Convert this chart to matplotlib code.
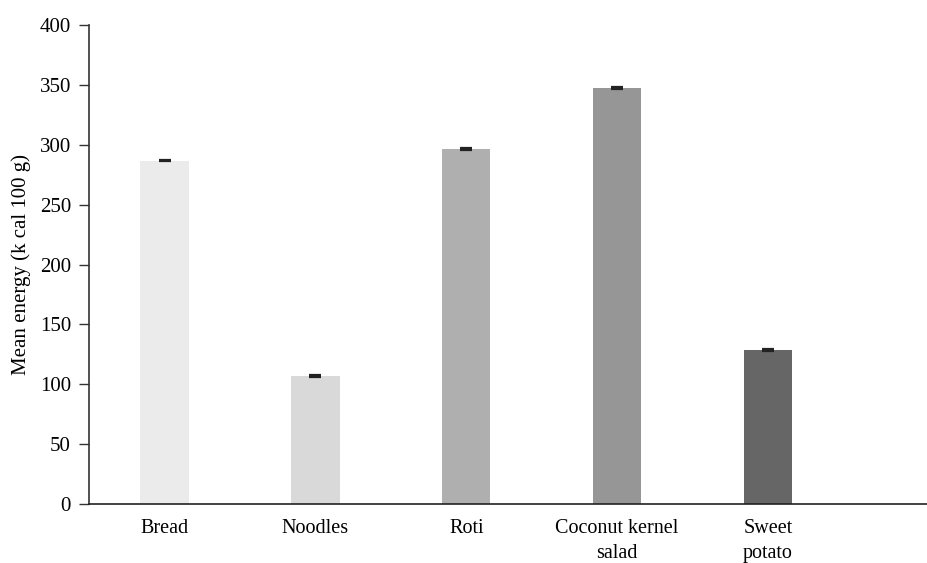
import numpy as np
import matplotlib.pyplot as plt

plt.rcParams['font.family'] = ['Liberation Serif', 'DejaVu Serif']

foods = ['Bread', 'Noodles', 'Roti', 'Coconut kernel\nsalad', 'Sweet\npotato']
energy = [287, 107, 297, 348, 129]
energy_err = [0.8, 0.8, 0.8, 0.8, 0.8]
bar_colors = ['#ebebeb', '#d9d9d9', '#afafaf', '#969696', '#666666']

fig = plt.figure(figsize=(9.28, 5.63), dpi=100)
ax = fig.add_axes([0.096, 0.105, 0.904, 0.85])

x = np.arange(len(foods))
ax.bar(x, energy, width=0.32, color=bar_colors, zorder=2)
ax.errorbar(x, energy, yerr=energy_err, fmt='none', ecolor='#222222',
            elinewidth=1, capsize=4.5, capthick=1.6, zorder=3)

ax.set_xlim(-0.5, 5.06)
ax.set_ylim(0, 400)
ax.set_yticks(np.arange(0, 401, 50))
ax.set_xticks(x)
ax.set_xticklabels(foods, fontsize=14.5, va='top', linespacing=1.4)
ax.tick_params(axis='y', labelsize=15, length=7, width=1, color='#333333', pad=6)
ax.tick_params(axis='x', length=0, pad=11)
ax.set_ylabel('Mean energy (k cal 100 g)', fontsize=15, labelpad=6)

for side in ('top', 'right'):
    ax.spines[side].set_visible(False)
ax.spines['left'].set_color('#333333')
ax.spines['bottom'].set_color('#222222')
ax.spines['left'].set_linewidth(1.2)
ax.spines['bottom'].set_linewidth(1.2)

fig.savefig('out.png', dpi=100)
